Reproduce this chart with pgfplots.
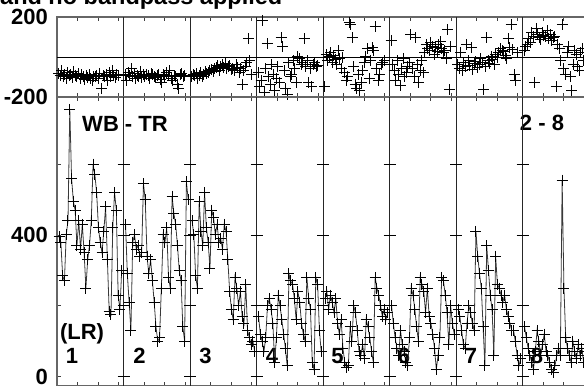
\documentclass[border=0pt]{standalone}
\usepackage{pgfplots}
\pgfplotsset{compat=1.18}
\usepackage{fontspec}
\setmainfont{Liberation Sans}
\begin{document}
\begin{tikzpicture}[x=1pt,y=1pt]
\pgfplotsset{
  seg/.style={scale only axis, width=532pt, xmin=0, xmax=520, clip=true,
    axis line style={draw=gray!80!black, line width=1.2pt},
    xtick={0,20,40,60,65,85,105,125,130,150,170,190,195,215,235,255,260,280,300,320,325,345,365,385,390,410,430,450,455,475,495,515},
    xticklabels={}, tick align=inside, major tick length=4pt,
    xtick style={black!75, line width=0.7pt},
    extra x ticks={65,130,195,260,325,390,455}, extra x tick labels={},
    extra x tick style={grid=major, major tick length=0pt, major grid style={black!85, line width=0.9pt}},
    yticklabel style={inner sep=0pt, anchor=east, xshift=-9pt, font=\fontsize{22}{22}\selectfont\bfseries},
    ytick pos=left},
  tp/.style={only marks, mark=+, mark size=5.5pt, mark options={black, line width=1pt}},
  bp/.style={gray!45!black, line width=0.8pt, mark=+, mark size=5.5pt, mark options={black, line width=1pt}},
}
% labels under data
\node[anchor=base west, inner sep=0pt, font=\fontsize{23.5}{23.5}\selectfont\bfseries] at (0,386) {and no bandpass applied};
\begin{scope}[every node/.style={font=\fontsize{22}{22}\selectfont\bfseries, inner sep=0pt}]
\node at (125,267) {WB - TR};
\node at (542,268) {2 - 8};
\node at (82,57) {(LR)};
\node at (72,35) {1};
\node at (139.5,35) {2};
\node at (205.5,35) {3};
\node at (272,35) {4};
\node at (337.5,35) {5};
\node at (404,35) {6};
\node at (471,35) {7};
\node at (537,35) {8};
\end{scope}

% top panel
\begin{axis}[seg, at={(57pt,294pt)}, anchor=south west, height=80pt,
  ymin=-200, ymax=200, ytick={-200,200}, yticklabels={-200,200}, ytick style={draw=none}]
\draw[black, line width=0.9pt] (axis cs:0,0) -- (axis cs:520,0);
\addplot[tp] table[row sep=\\, header=false, y index=0, x expr={1.5+1.5*\coordindex}]
{-85\\-95\\-70\\-100\\-90\\-110\\-80\\-95\\-88\\-105\\-75\\-92\\-98\\-85\\-110\\-90\\-100\\-115\\-95\\-105\\-88\\-110\\-120\\-98\\-100\\-92\\-108\\-85\\-160\\-95\\-100\\-90\\-120\\-80\\-98\\-70\\-92\\-105\\-88\\-95\\};
\addplot[tp] table[row sep=\\, header=false, y index=0, x expr={65+1.5+1.5*\coordindex}]
{-90\\-120\\-80\\-95\\-60\\-100\\-85\\-110\\-92\\-98\\-75\\-105\\-90\\-100\\-88\\-95\\-110\\-85\\-90\\-100\\-105\\-95\\-88\\-115\\-130\\-90\\-100\\-80\\-95\\-70\\-110\\-120\\-95\\-100\\-140\\-160\\-90\\-85\\-100\\-95\\};
\addplot[tp] table[row sep=\\, header=false, y index=0, x expr={130+1.5+1.5*\coordindex}]
{-100\\-90\\-95\\-85\\-110\\-92\\-80\\-98\\-90\\-75\\-85\\-80\\-70\\-65\\-75\\-60\\-55\\-45\\-70\\-50\\-40\\-55\\-35\\-60\\-50\\-45\\-65\\-58\\-70\\-40\\-55\\-80\\-60\\-140\\-70\\-50\\-30\\90\\-20\\-90\\};
\addplot[tp] table[row sep=\\, header=false, y index=0, x expr={195+1.5+1.5*\coordindex}]
{-80\\-150\\-120\\180\\-180\\-60\\65\\-100\\-140\\-40\\-90\\-170\\-110\\-50\\-130\\95\\50\\-70\\-160\\-190\\-30\\-100\\-90\\-20\\-60\\-130\\0\\-10\\-40\\-30\\90\\-50\\-20\\-130\\-60\\-150\\-40\\-30\\-50\\-45\\};
\addplot[tp] table[row sep=\\, header=false, y index=0, x expr={260+1.5+1.5*\coordindex}]
{-150\\10\\-20\\0\\20\\-30\\5\\-15\\-40\\30\\-10\\-60\\-5\\-80\\-120\\-100\\170\\160\\95\\-50\\-140\\-160\\-90\\-170\\-130\\-70\\-30\\0\\40\\-110\\-20\\45\\30\\150\\-60\\-120\\-90\\-40\\-30\\-20\\};
\addplot[tp] table[row sep=\\, header=false, y index=0, x expr={325+1.5+1.5*\coordindex}]
{80\\-40\\-70\\-120\\-20\\-90\\-145\\-60\\-10\\-100\\-80\\-50\\-30\\110\\-60\\-100\\95\\-40\\-130\\-70\\-20\\-80\\20\\60\\40\\30\\70\\50\\10\\45\\25\\60\\75\\40\\20\\30\\-10\\135\\-165\\50\\};
\addplot[tp] table[row sep=\\, header=false, y index=0, x expr={390+1.5+1.5*\coordindex}]
{-40\\-60\\20\\-70\\-30\\-50\\60\\-20\\-45\\45\\-65\\-35\\-25\\-55\\-40\\-10\\-30\\-165\\-50\\95\\-20\\-35\\0\\-15\\-40\\10\\-5\\20\\40\\30\\25\\5\\-10\\90\\45\\160\\35\\-90\\-120\\20\\};
\addplot[tp] table[row sep=\\, header=false, y index=0, x expr={455+1.5+1.5*\coordindex}]
{30\\50\\60\\90\\70\\120\\100\\-130\\140\\110\\95\\85\\120\\105\\100\\130\\90\\110\\80\\95\\100\\-150\\60\\40\\-20\\160\\-60\\-90\\20\\50\\-100\\-170\\-40\\30\\10\\-50\\-70\\20\\40\\-20\\};
\end{axis}

% bottom panel
\begin{axis}[seg, at={(57pt,5.3pt)}, anchor=south west, height=288.7pt,
  ymin=-26, ymax=790, ytick={0,200,400,600}, yticklabels={0,,400,},
  ytick style={black!75, line width=0.7pt}]
\addplot[bp] table[row sep=\\, header=false, y index=0, x expr={2+1.75*\coordindex}]
{395\\380\\285\\270\\400\\440\\755\\560\\495\\470\\370\\440\\360\\430\\350\\250\\330\\370\\440\\600\\570\\520\\420\\380\\350\\410\\480\\330\\185\\175\\420\\520\\470\\230\\190\\300\\};
\addplot[bp] table[row sep=\\, header=false, y index=0, x expr={65+2+1.75*\coordindex}]
{430\\290\\210\\130\\380\\400\\360\\370\\340\\350\\545\\500\\340\\290\\330\\270\\210\\140\\100\\110\\250\\400\\380\\420\\280\\250\\510\\460\\430\\370\\300\\270\\140\\100\\550\\500\\};
\addplot[bp] table[row sep=\\, header=false, y index=0, x expr={130+2+1.75*\coordindex}]
{440\\400\\285\\250\\495\\410\\370\\520\\420\\380\\305\\470\\450\\400\\430\\380\\390\\360\\430\\410\\330\\240\\190\\160\\280\\250\\200\\240\\170\\150\\260\\130\\110\\90\\100\\70\\};
\addplot[bp] table[row sep=\\, header=false, y index=0, x expr={195+2+1.75*\coordindex}]
{170\\120\\100\\70\\110\\200\\220\\190\\150\\40\\110\\230\\200\\160\\120\\80\\30\\290\\270\\260\\220\\160\\240\\210\\150\\120\\100\\280\\220\\190\\40\\20\\280\\260\\130\\70\\};
\addplot[bp] table[row sep=\\, header=false, y index=0, x expr={260+2+1.75*\coordindex}]
{220\\240\\190\\230\\210\\180\\220\\150\\120\\160\\80\\40\\25\\30\\140\\100\\200\\180\\130\\70\\60\\90\\50\\160\\140\\110\\70\\40\\280\\250\\230\\200\\170\\190\\160\\180\\};
\addplot[bp] table[row sep=\\, header=false, y index=0, x expr={325+2+1.75*\coordindex}]
{200\\150\\110\\80\\60\\130\\90\\70\\40\\30\\110\\250\\230\\190\\140\\100\\280\\260\\240\\180\\250\\170\\150\\120\\80\\20\\60\\110\\280\\270\\230\\180\\90\\200\\150\\120\\};
\addplot[bp] table[row sep=\\, header=false, y index=0, x expr={390+2+1.75*\coordindex}]
{190\\170\\130\\90\\80\\150\\200\\180\\150\\130\\410\\340\\290\\250\\140\\30\\370\\300\\230\\190\\60\\340\\260\\250\\230\\210\\230\\190\\170\\150\\130\\130\\100\\60\\30\\50\\};
\addplot[bp] table[row sep=\\, header=false, y index=0, x expr={455+2+1.75*\coordindex}]
{140\\110\\80\\60\\40\\20\\70\\130\\100\\60\\90\\120\\70\\60\\40\\20\\10\\30\\60\\80\\60\\555\\250\\110\\80\\60\\40\\100\\70\\50\\90\\60\\80\\40\\70\\90\\};
\end{axis}

% y ticks on the dividers of the lower panel
\foreach \k in {1,...,7} {
  \foreach \yy in {14.5,85.25,156,226.75} {
    \draw[black, line width=0.8pt] ({57+66.5*\k-6},\yy) -- ({57+66.5*\k+6},\yy);
  }
}
\pgfresetboundingbox
\useasboundingbox (0,0) rectangle (584,391);
\end{tikzpicture}
\end{document}
